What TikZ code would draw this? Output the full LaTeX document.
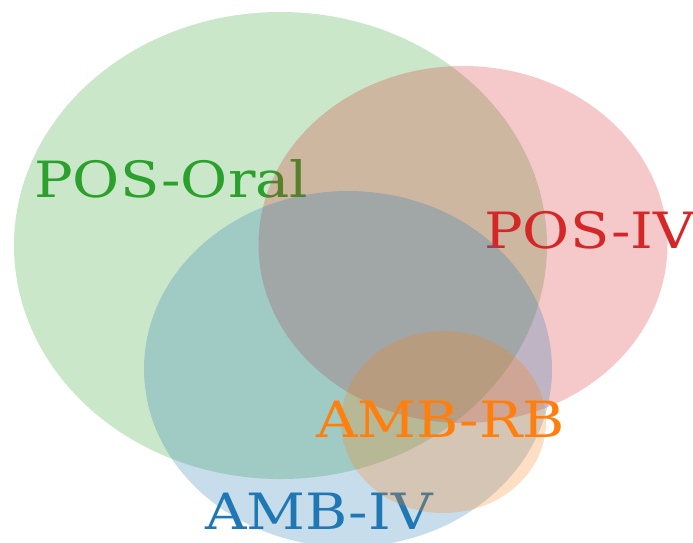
\documentclass[tikz,border=0pt]{standalone}
\usepackage{fontspec}
\setmainfont{DejaVu Serif}
\definecolor{tabgreen}{HTML}{2CA02C}
\definecolor{tabred}{HTML}{D62728}
\definecolor{tabblue}{HTML}{1F77B4}
\definecolor{taborange}{HTML}{FF7F0E}
\begin{document}
\begin{tikzpicture}[x=1pt,y=-1pt,
  setfill/.style={fill=#1,fill opacity=0.25,draw=none},
  setlabel/.style={text=#1,anchor=base west,inner sep=0pt,xscale=1.15,font=\fontsize{50}{50}\selectfont}]
\useasboundingbox (0,0) rectangle (693,542);
\begin{scope}
\clip (0,0) rectangle (693,542);
\fill[setfill=tabgreen] (280.5,245.5) ellipse [x radius=266.5, y radius=233.5];
\node[setlabel=tabgreen] (oral) at (34,197) {POS-Oral};
\fill[setfill=tabred] (463,244.5) ellipse [x radius=204.5, y radius=178.5];
\node[setlabel=tabred] (posiv) at (484,248) {POS-IV};
\fill[setfill=tabblue] (348,369) ellipse [x radius=204, y radius=178];
\node[setlabel=tabblue] (ambiv) at (205,529) {AMB-IV};
\fill[setfill=taborange] (443.5,422) ellipse [x radius=102.5, y radius=91];
\node[setlabel=taborange] (ambrb) at (316,437) {AMB-RB};
\end{scope}
\end{tikzpicture}
\end{document}
